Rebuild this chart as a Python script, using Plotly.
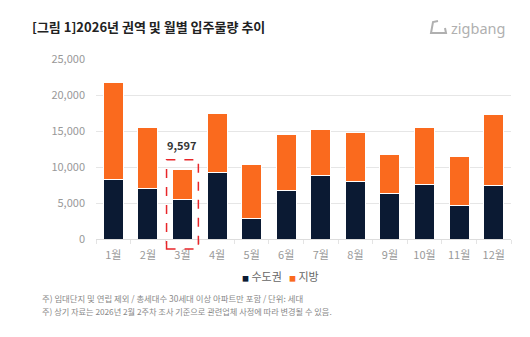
import plotly.graph_objects as go

months = ["1월", "2월", "3월", "4월", "5월", "6월", "7월", "8월", "9월", "10월", "11월", "12월"]
capital = [8300, 7000, 5500, 9200, 2900, 6800, 8800, 8050, 6300, 7600, 4600, 7400]
totals = [21700, 15500, 9597, 17500, 10400, 14500, 15200, 14800, 11800, 15500, 11500, 17300]
local = [t - c for t, c in zip(totals, capital)]
series_names = ["수도권", "지방"]
highlight_idx = 2

NAVY = "#0b1a33"
ORANGE = "#fa6a1e"
FONT = "Noto Sans CJK KR"

fig = go.Figure()
fig.add_bar(x=months, y=capital, name=series_names[0], marker=dict(color=NAVY, line=dict(color="white", width=1)))
fig.add_bar(x=months, y=local, name=series_names[1], marker=dict(color=ORANGE, line=dict(color="white", width=1)))

W, H = 530, 337
L, R, T, B = 96, 19, 59, 98
pw, ph = W - L - R, H - T - B
YMAX = 25000

def px_x(p):
    return (p - L) / pw

def px_y(p):
    return (H - B - p) / ph

fig.update_layout(
    barmode="stack",
    bargap=0.42,
    width=W, height=H,
    margin=dict(l=L, r=R, t=T, b=B),
    paper_bgcolor="white", plot_bgcolor="white",
    font=dict(family=FONT, size=11, color="#777"),
    showlegend=False,
    title=dict(text="<b>[그림 1]2026년 권역 및 월별 입주물량 추이</b>", x=32 / W, xref="container",
               xanchor="left", y=1 - 27 / H, yref="container", yanchor="middle",
               font=dict(size=13, color="#222", family=FONT)),
)
fig.update_yaxes(range=[0, YMAX], dtick=5000, tickformat=",", gridcolor="#e6e6e6", gridwidth=1,
                 zeroline=False, showline=False, ticks="", tickfont=dict(size=11, color="#999"),
                 ticklabelstandoff=10)
fig.update_xaxes(showline=True, linecolor="#dddddd", linewidth=1, tickson="boundaries", ticks="outside",
                 ticklen=4, tickcolor="#e4e4e4", tickfont=dict(size=11, color="#999"), showgrid=False,
                 ticklabelstandoff=6)

# highlight box and label around March
fig.add_shape(type="rect", xref="x", yref="paper",
              x0=highlight_idx - 0.46, x1=highlight_idx + 0.46,
              y0=px_y(249), y1=(totals[highlight_idx] + 1400) / YMAX,
              line=dict(color="#e8262a", width=1.5, dash="dash"), layer="above")
fig.add_annotation(x=months[highlight_idx], y=totals[highlight_idx], text=f"<b>{totals[highlight_idx]:,}</b>",
                   showarrow=False, yshift=25, font=dict(size=11, color="#333"))

# manual legend
for px0, name, col in [(240, series_names[0], NAVY), (287, series_names[1], ORANGE)]:
    fig.add_annotation(xref="paper", yref="paper", x=px_x(px0), y=px_y(276), xanchor="left", yanchor="middle",
                       text=f"<span style='color:{col};font-size:7px'>■</span> {name}",
                       showarrow=False, font=dict(size=11, color="#666"))

# logo
fig.add_annotation(xref="paper", yref="paper", x=px_x(507), y=px_y(28), xanchor="right", yanchor="middle",
                   text="zigbang", showarrow=False, font=dict(size=14.5, color="#b0b0b0", family="Noto Sans"))
fig.add_shape(type="path", xref="paper", yref="paper",
              path=(f"M {px_x(438)} {px_y(21)} L {px_x(433)} {px_y(22)} L {px_x(431)} {px_y(33)} "
                    f"L {px_x(446)} {px_y(33)} L {px_x(445)} {px_y(28)}"),
              line=dict(color="#b0b0b0", width=2))

# footnotes
fig.add_annotation(xref="paper", yref="paper", x=px_x(40), y=px_y(298), xanchor="left", yanchor="middle",
                   text="주) 임대단지 및 연립 제외 / 총세대수 30세대 이상 아파트만 포함 / 단위: 세대",
                   showarrow=False, font=dict(size=8.4, color="#888"))
fig.add_annotation(xref="paper", yref="paper", x=px_x(40), y=px_y(311), xanchor="left", yanchor="middle",
                   text="주) 상기 자료는 2026년 2월 2주차 조사 기준으로 관련업체 사정에 따라 변경될 수 있음.",
                   showarrow=False, font=dict(size=8.2, color="#888"))

fig.write_html("out.html")
